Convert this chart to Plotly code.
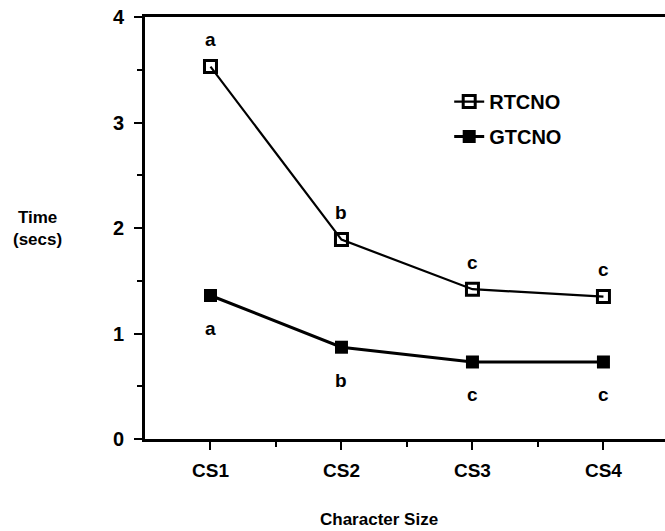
import plotly.graph_objects as go

categories = ["CS1", "CS2", "CS3", "CS4"]
rtcno = [3.53, 1.89, 1.42, 1.35]
gtcno = [1.36, 0.87, 0.73, 0.73]
rtcno_letters = ["a", "b", "c", "c"]
gtcno_letters = ["a", "b", "c", "c"]

xpos = list(range(len(categories)))
FONT = "Liberation Sans"

fig = go.Figure()
fig.add_trace(go.Scatter(
    x=xpos, y=rtcno, name="RTCNO", mode="lines+markers", legendgroup="r",
    line=dict(color="black", width=2.2),
    marker=dict(symbol="square-open", size=12, color="black", line=dict(width=3, color="black")),
))
fig.add_trace(go.Scatter(
    x=xpos, y=gtcno, name="GTCNO", mode="lines+markers", legendgroup="g",
    line=dict(color="black", width=3),
    marker=dict(symbol="square", size=13, color="black"),
))

for x, y, t in zip(xpos, rtcno, rtcno_letters):
    fig.add_annotation(x=x, y=y, text=t, showarrow=False, yshift=27,
                       font=dict(family=FONT, size=19, color="black", weight="bold"))
for x, y, t in zip(xpos, gtcno, gtcno_letters):
    fig.add_annotation(x=x, y=y, text=t, showarrow=False, yshift=-33,
                       font=dict(family=FONT, size=19, color="black", weight="bold"))

fig.add_annotation(x=-0.206, y=0.5, xref="paper", yref="paper", xanchor="center", yanchor="middle",
                   text="Time<br>(secs)", showarrow=False,
                   font=dict(family=FONT, size=17, color="black", weight="bold"))
fig.add_annotation(x=0.45, y=-0.19, xref="paper", yref="paper", yanchor="middle",
                   text="Character Size", showarrow=False,
                   font=dict(family=FONT, size=17, color="black", weight="bold"))

fig.update_layout(
    width=665, height=531,
    margin=dict(l=145, r=0, t=17, b=92),
    paper_bgcolor="white", plot_bgcolor="white",
    showlegend=True,
    legend=dict(x=0.585, y=0.758, xanchor="left", yanchor="middle",
                bgcolor="rgba(0,0,0,0)", font=dict(family=FONT, size=20, color="black", weight="bold"),
                itemwidth=30, tracegroupgap=6),
    font=dict(family=FONT, size=18, color="black"),
)
fig.update_xaxes(
    range=[-0.5, 3.47], tickvals=xpos, ticktext=categories,
    showgrid=False, zeroline=False, showline=True, linecolor="black", linewidth=3,
    mirror=True, ticks="outside", ticklen=8, tickwidth=2, tickcolor="black",
    minor=dict(tickvals=[0.5, 1.5, 2.5], ticks="outside", ticklen=5, tickwidth=2, tickcolor="black"),
    tickfont=dict(family=FONT, size=19, color="black", weight="bold"), ticklabelstandoff=4,
)
fig.update_yaxes(
    range=[0, 4], tickvals=[0, 1, 2, 3, 4],
    showgrid=False, zeroline=False, showline=True, linecolor="black", linewidth=3,
    ticks="outside", ticklen=8, tickwidth=2, tickcolor="black",
    minor=dict(tickvals=[0.5, 1.5, 2.5, 3.5], ticks="outside", ticklen=5, tickwidth=2, tickcolor="black"),
    tickfont=dict(family=FONT, size=20, color="black", weight="bold"), ticklabelstandoff=6,
)

fig.write_html("out.html")
